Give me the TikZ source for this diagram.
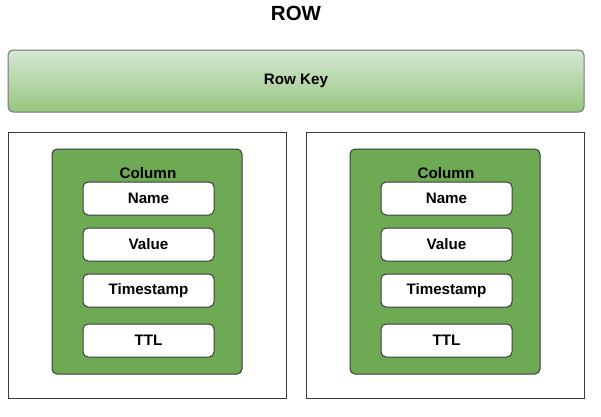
\documentclass[tikz,border=0pt]{standalone}
\usepackage{fontspec}
\setmainfont{Liberation Sans}
\usetikzlibrary{positioning}
\definecolor{keytop}{HTML}{D5E8D4}
\definecolor{keybot}{HTML}{97C57F}
\definecolor{colgreen}{HTML}{6DAA53}
\definecolor{edge}{HTML}{3A3A3A}

\begin{document}
\begin{tikzpicture}[x=1pt, y=-1pt,
    txt/.style={font=\bfseries\fontsize{15.2}{17}\selectfont},
    rowbox/.style={draw=edge, line width=1pt, minimum width=278pt, minimum height=266pt},
    colbox/.style={draw=edge, fill=colgreen, line width=1pt, rounded corners=5pt, minimum width=190pt, minimum height=225pt},
    field/.style={txt, draw=edge, fill=white, line width=1pt, rounded corners=5pt, minimum width=131pt, minimum height=33pt}]
        \useasboundingbox (0,0) rectangle (601,416);
        \node[font=\bfseries\fontsize{20.5}{23}\selectfont] (title) at (296,13) {ROW};
        \node[txt, draw=black!55, line width=1pt, rounded corners=5pt, top color=keytop, bottom color=keybot,
            minimum width=576pt, minimum height=62pt] (key) at (296,81) {Row Key};
        \foreach \cx[count=\i] in {147, 445} {
            \node[rowbox] (row\i) at (\cx,265) {};
            \node[colbox] (col\i) at (\cx,261.5) {};
            \node[txt] (lbl\i) at (\cx+1,173) {Column};
            \foreach \f/\fy[count=\j] in {Name/198.5, Value/244.5, Timestamp/290.5, TTL/340.5} {
                \node[field] (f\i\j) at (\cx+1.5,\fy) {\f};
            }
        }
    \end{tikzpicture}
\end{document}
